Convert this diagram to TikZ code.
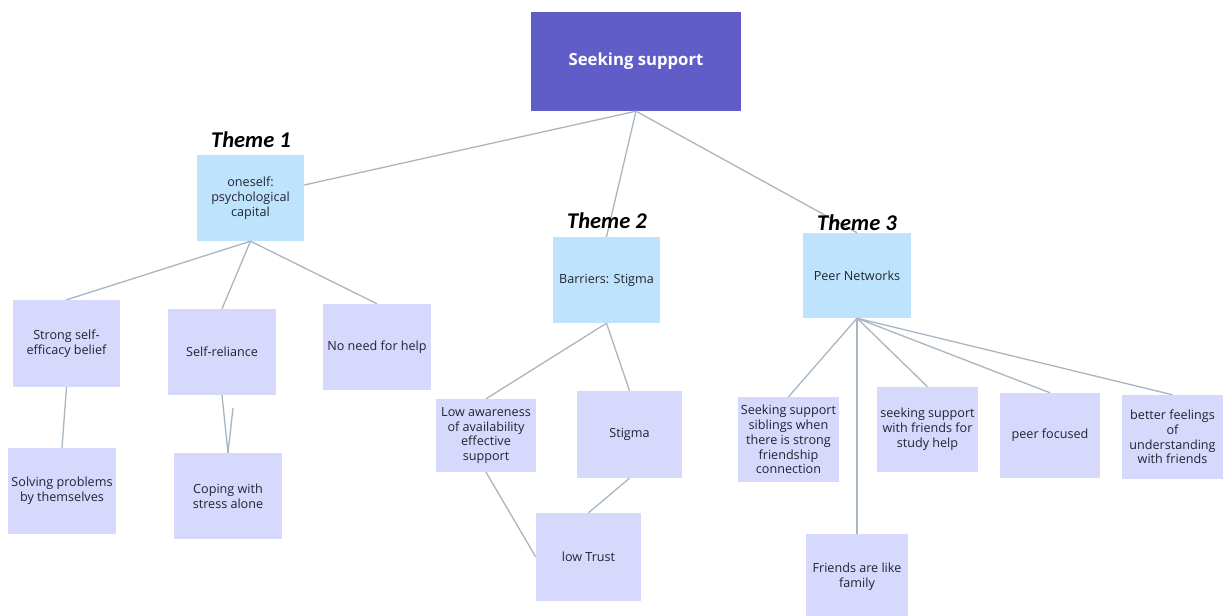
\documentclass[tikz,border=0pt]{standalone}
\usepackage{fontspec}
\setmainfont{Open Sans}
\newfontfamily\themefont{Carlito}
\usetikzlibrary{calc}
\definecolor{rootfill}{RGB}{96,92,200}
\definecolor{themefill}{RGB}{190,227,253}
\definecolor{leaffill}{RGB}{214,216,252}
\definecolor{linkcol}{RGB}{168,182,194}
\definecolor{ink}{RGB}{35,35,50}
\tikzset{
  rootbox/.style={fill=rootfill, text=white, inner sep=0pt, align=center,
    font=\fontsize{16.7}{20}\selectfont\bfseries},
  themebox/.style={fill=themefill, text=ink, inner sep=0pt, align=center,
    font=\fontsize{12.6}{14.8}\selectfont},
  leafbox/.style={fill=leaffill, text=ink, inner sep=0pt, align=center,
    font=\fontsize{12.6}{14.8}\selectfont},
  themelabel/.style={inner sep=0pt, text=black,
    font=\fontsize{22.5}{26}\selectfont\themefont\bfseries\itshape},
  link/.style={draw=linkcol, line width=1.3pt},
  sz/.style 2 args={minimum width=#1pt, minimum height=#2pt}
}
\begin{document}
\begin{tikzpicture}[x=1pt, y=-1pt]
\useasboundingbox (0,0) rectangle (1224,616);
\fill[white] (0,0) rectangle (1224,616);

% root
\node[rootbox, sz={210}{99}] (root) at (636,61.5) {Seeking support};

% theme 1
\node[themebox, sz={107}{86}] (t1) at (250.5,198) {oneself:\\psychological\\capital};
\node[leafbox, sz={107}{87}] (strong) at (66.5,343.5) {Strong self-\\efficacy belief};
\node[leafbox, sz={108}{86}] (selfrel) at (222,352) {Self-reliance};
\node[leafbox, sz={108}{86}] (noneed) at (377,347) {No need for help};
\node[leafbox, sz={108}{86}] (solving) at (62,491) {Solving problems\\by themselves};
\node[leafbox, sz={108}{86}] (coping) at (228,496) {Coping with\\stress alone};
\coordinate (stray) at (233,408);

% theme 2
\node[themebox, sz={107}{86}] (t2) at (606.5,280) {Barriers: Stigma};
\node[leafbox, sz={100}{73}] (lowaw) at (486,435.5) {Low awareness\\of availability\\effective\\support};
\node[leafbox, sz={105}{87}] (stigma) at (629.5,434.5) {Stigma};
\node[leafbox, sz={105}{88}] (lowtrust) at (588.5,557) {low Trust};

% theme 3
\node[themebox, sz={108}{85}] (t3) at (857,275.5) {Peer Networks};
\node[leafbox, sz={101}{85}] (sibl) at (788.5,439.5) {Seeking support\\siblings when\\there is strong\\friendship\\connection};
\node[leafbox, sz={101}{85}] (withfr) at (927.5,429.5) {seeking support\\with friends for\\study help};
\node[leafbox, sz={100}{85}] (peerf) at (1050,435.5) {peer focused};
\node[leafbox, sz={101}{84}] (better) at (1172.5,437) {better feelings\\of\\understanding\\with friends};
\node[leafbox, sz={102}{86}] (family) at (857,577) {Friends are like\\family};

% connectors
\draw[link] (root.south) -- ($(t1.east)+(0,-13)$);
\draw[link] (root.south) -- (t2.north);
\draw[link] (root.south) -- (t3.north);

\draw[link] (t1.south) -- (strong.north);
\draw[link] (t1.south) -- (selfrel.north);
\draw[link] (t1.south) -- (noneed.north);
\draw[link] (strong.south) -- (solving.north);
\draw[link] (selfrel.south) -- (coping.north);
\draw[link] (stray) -- (coping.north);

\draw[link] (t2.south) -- (lowaw.north);
\draw[link] (t2.south) -- (stigma.north);
\draw[link] (stigma.south) -- (lowtrust.north);
\draw[link] (lowaw.south) -- (lowtrust.west);

\draw[link] (t3.south) -- (sibl.north);
\draw[link] (t3.south) -- (family.north);
\draw[link] (t3.south) -- (withfr.north);
\draw[link] (t3.south) -- (peerf.north);
\draw[link] (t3.south) -- (better.north);

% theme captions
\node[themelabel] (cap1) at (251,140) {Theme 1};
\node[themelabel] (cap2) at (607,221) {Theme 2};
\node[themelabel] (cap3) at (857,223) {Theme 3};
\end{tikzpicture}
\end{document}
